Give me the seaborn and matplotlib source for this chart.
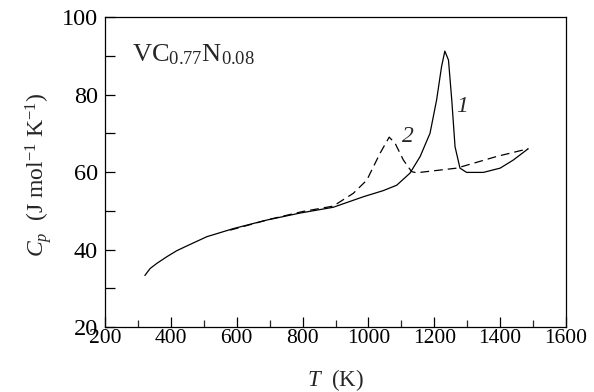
import numpy as np
import pandas as pd
import seaborn as sns
import matplotlib.pyplot as plt
from matplotlib.ticker import MultipleLocator

# curve 1 (solid)
t1 = [321, 337, 357, 387, 418, 448, 509, 590, 691, 792, 893, 984, 1045, 1086, 1126, 1157,
      1187, 1207, 1222, 1232, 1243, 1253, 1263, 1278, 1298, 1349, 1400, 1440, 1485]
cp1 = [33.3, 35.1, 36.4, 38.1, 39.7, 40.9, 43.3, 45.4, 47.6, 49.4, 50.9, 53.6, 55.2, 56.6, 59.7, 64.0,
       70.0, 78.6, 87.2, 91.2, 88.9, 78.6, 66.5, 61.0, 59.9, 59.9, 61.0, 63.1, 66.0]

# curve 2 (dashed)
t2 = [580, 700, 800, 893, 954, 995, 1035, 1063, 1081, 1106, 1131, 1146, 1268, 1389, 1485]
cp2 = [45.0, 47.8, 49.8, 51.2, 54.5, 57.9, 64.8, 69.0, 67.4, 63.1, 60.1, 59.8, 61.0, 64.0, 66.0]

yticks = [20, 30, 40, 50, 60, 70, 80, 90, 100]
ylabels = ['20', '', '40', '', '60', '', '80', '', '100']
xticks = [200, 400, 600, 800, 1000, 1200, 1400, 1600]

sns.set_style('ticks')
plt.rcParams['font.family'] = ['Liberation Serif', 'DejaVu Serif']
plt.rcParams['mathtext.fontset'] = 'custom'
plt.rcParams['mathtext.rm'] = 'Liberation Serif'
plt.rcParams['mathtext.it'] = 'Liberation Serif:italic'

df1 = pd.DataFrame({'T': t1, 'Cp': cp1})
df2 = pd.DataFrame({'T': t2, 'Cp': cp2})

fig = plt.figure(figsize=(5.94, 3.92), dpi=100)
ax = fig.add_axes([0.1768, 0.1658, 0.7761, 0.7908])

sns.lineplot(data=df1, x='T', y='Cp', ax=ax, color='black', lw=0.9, sort=False)
sns.lineplot(data=df2, x='T', y='Cp', ax=ax, color='black', lw=0.9, sort=False,
             linestyle=(0, (7, 4)))

ax.set_xlim(200, 1600)
ax.set_ylim(20, 100)
ax.set_xticks(xticks)
ax.set_xticklabels([str(v) for v in xticks], fontsize=15.5)
ax.xaxis.set_minor_locator(MultipleLocator(100))
ax.set_yticks(yticks)
ax.set_yticklabels(ylabels, fontsize=17.5)
ax.tick_params(direction='in', width=0.9, color='black', labelcolor='black')
ax.tick_params(axis='x', which='major', length=7.5, pad=1.5)
ax.tick_params(axis='x', which='minor', length=5, width=0.9, direction='in')
ax.tick_params(axis='y', which='major', length=7.5, pad=5)
for s in ax.spines.values():
    s.set_linewidth(0.9)
    s.set_color('black')

ax.set_xlabel(r'$T$  (K)', fontsize=16.5)
ax.set_ylabel(r'$C_p$  (J mol$^{-1}$ K$^{-1}$)', fontsize=17)
ax.xaxis.set_label_coords(0.5, -0.13)
ax.yaxis.set_label_coords(-0.11, 0.49)

ax.text(282, 90.4, r'VC$_{0.77}$N$_{0.08}$', fontsize=19, va='center', ha='left')
ax.text(1283, 77.0, '1', fontsize=17, style='italic', va='center', ha='center')
ax.text(1121, 69.1, '2', fontsize=17, style='italic', va='center', ha='center')

fig.savefig('out.png', dpi=100)
